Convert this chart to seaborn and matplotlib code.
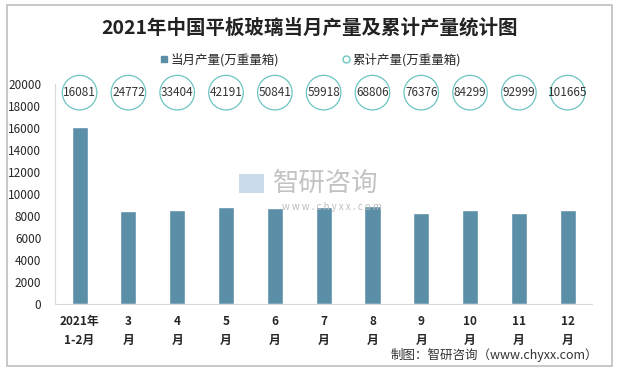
import numpy as np
import pandas as pd
import seaborn as sns
import matplotlib.pyplot as plt
from matplotlib.patches import Rectangle
from matplotlib.lines import Line2D

# data
months = ["2021年\n1-2月", "3\n月", "4\n月", "5\n月", "6\n月", "7\n月",
          "8\n月", "9\n月", "10\n月", "11\n月", "12\n月"]
monthly = [16081, 8400, 8490, 8760, 8670, 8780, 8850, 8300, 8490, 8300, 8490]
cumulative = [16081, 24772, 33404, 42191, 50841, 59918, 68806, 76376, 84299, 92999, 101665]

bar_color = "#5B8FA8"
ring_color = "#6CC5C1"

sns.set_style("white")
plt.rcParams["font.family"] = ["Noto Sans CJK SC", "DejaVu Sans"]

df = pd.DataFrame({"month": months, "monthly": monthly})

fig = plt.figure(figsize=(6.2, 3.71), dpi=100)
ax = fig.add_axes([0.089, 0.181, 0.866, 0.593])

sns.barplot(data=df, x="month", y="monthly", color=bar_color, width=0.33,
            saturation=1, ax=ax)

# cumulative values shown as rings above the bars
ring_y = 19200
ax.scatter(range(len(cumulative)), [ring_y] * len(cumulative), s=620,
           facecolors="none", edgecolors=ring_color, linewidths=0.9,
           clip_on=False, zorder=3)
for i, v in enumerate(cumulative):
    ax.text(i, ring_y, str(v), ha="center", va="center", fontsize=8.5,
            color="#333333", zorder=4)

ax.set_ylim(0, 20000)
ax.set_xlim(-0.5, len(months) - 0.5)
ax.set_yticks(range(0, 20001, 2000))
ax.set_xlabel("")
ax.set_ylabel("")
ax.tick_params(axis="y", length=0, pad=10, labelsize=8.5)
ax.tick_params(axis="x", which="major", length=0, pad=8, labelsize=8.5)
for lab in ax.get_xticklabels():
    lab.set_fontweight("bold")
    lab.set_linespacing(1.55)
ax.set_xticks(np.arange(-0.5, len(months)), minor=True)
ax.tick_params(axis="x", which="minor", length=5, color="#D9D9D9", width=1)

sns.despine(ax=ax, top=True, right=True)
ax.spines["left"].set_color("#D9D9D9")
ax.spines["bottom"].set_color("#D9D9D9")

# watermark
fig.text(0.44, 0.505, "智研咨询", fontsize=19, color="#BDBDBD", ha="left",
         va="center", alpha=0.9)
fig.text(0.455, 0.442, "w w w . c h y x x . c o m", fontsize=7, color="#BDBDBD",
         ha="left", va="center")
fig.patches.append(Rectangle((0.385, 0.48), 0.04, 0.05, transform=fig.transFigure,
                             facecolor="#C5D8EA", edgecolor="none", alpha=0.9))

# title
fig.text(0.5, 0.925, "2021年中国平板玻璃当月产量及累计产量统计图", ha="center",
         va="center", fontsize=14, fontweight="bold", color="#222222")

# legend
handles = [
    Line2D([], [], marker="s", linestyle="none", markersize=5,
           markerfacecolor=bar_color, markeredgecolor=bar_color),
    Line2D([], [], marker="o", linestyle="none", markersize=5,
           markerfacecolor="none", markeredgecolor=ring_color),
]
fig.legend(handles, ["当月产量(万重量箱)", "累计产量(万重量箱)"], loc="center",
           bbox_to_anchor=(0.5, 0.84), ncol=2, frameon=False, fontsize=9,
           handletextpad=0.1, columnspacing=5, handlelength=0.8)

# source
fig.text(0.965, 0.043, "制图：智研咨询（www.chyxx.com）", ha="right", va="center",
         fontsize=9, color="#333333")

# outer frame
fig.patches.append(Rectangle((0.012, 0.013), 0.975, 0.974, transform=fig.transFigure,
                             facecolor="none", edgecolor="#BFBFBF", linewidth=1.2))

fig.savefig("out.png", dpi=100)
